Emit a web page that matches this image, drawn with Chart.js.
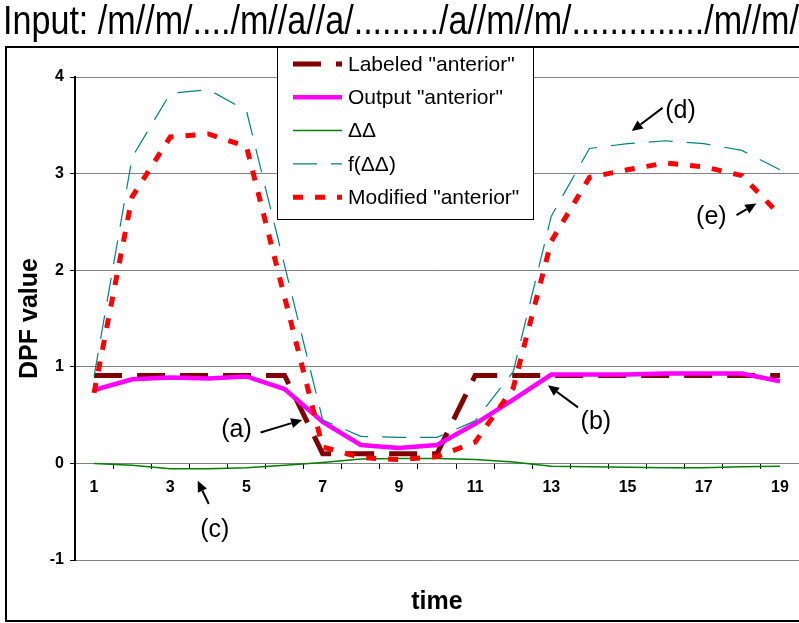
<!DOCTYPE html>
<html>
<head>
<meta charset="utf-8">
<script src="https://cdn.jsdelivr.net/npm/chart.js@4.4.0/dist/chart.umd.min.js"></script>
<style>
  html, body { margin: 0; padding: 0; background: #fff; }
</style>
</head>
<body>
<canvas id="c" width="799" height="623"></canvas>
<script>
// data
const timeLabels = ['1','2','3','4','5','6','7','8','9','10','11','12','13','14','15','16','17','18','19'];
const labeledAnterior = [0.91,0.91,0.91,0.91,0.91,0.91,0.1,0.1,0.1,0.1,0.91,0.91,0.91,0.91,0.91,0.91,0.91,0.91,0.91];
const outputAnterior = [0.76,0.87,0.89,0.88,0.90,0.77,0.43,0.19,0.16,0.19,0.41,0.66,0.92,0.92,0.92,0.93,0.93,0.93,0.85];
const deltaDelta = [0,-0.02,-0.056,-0.055,-0.045,-0.02,0.01,0.045,0.05,0.05,0.04,0.015,-0.03,-0.035,-0.04,-0.045,-0.045,-0.035,-0.03];
const fDeltaDelta = [0.9,3.17,3.83,3.87,3.65,2.05,0.45,0.28,0.27,0.27,0.44,0.95,2.56,3.26,3.31,3.34,3.31,3.24,3.04];
const modifiedAnterior = [0.73,2.76,3.38,3.41,3.28,1.72,0.17,0.06,0.04,0.07,0.22,0.78,2.3,2.96,3.04,3.11,3.07,2.98,2.57];

const titleText = 'Input: /m//m/..../m//a//a/........./a//m//m/............../m//m/';

// callouts: x is category index (0 based), y is DPF value
const callouts = [
  { text: '(a)', at: [3.74, 0.34], from: [4.37, 0.32], to: [5.46, 0.45] },
  { text: '(b)', at: [13.17, 0.43], from: [12.70, 0.58], to: [11.91, 0.81] },
  { text: '(c)', at: [3.17, -0.69], from: [3.01, -0.42], to: [2.72, -0.18] },
  { text: '(d)', at: [15.39, 3.65], from: [14.92, 3.68], to: [14.11, 3.44] },
  { text: '(e)', at: [16.20, 2.55], from: [16.86, 2.57], to: [17.38, 2.69] }
];

const FONT = "'Liberation Sans', Arial, sans-serif";
const NARROW = "'Liberation Sans Narrow', 'Liberation Sans', Arial, sans-serif";

function drawArrow(ctx, x1, y1, x2, y2) {
  const ang = Math.atan2(y2 - y1, x2 - x1);
  const head = 11, half = 5;
  const bx = x2 - head * Math.cos(ang), by = y2 - head * Math.sin(ang);
  ctx.beginPath();
  ctx.moveTo(x1, y1);
  ctx.lineTo(bx, by);
  ctx.stroke();
  ctx.beginPath();
  ctx.moveTo(x2, y2);
  ctx.lineTo(bx + half * Math.sin(ang), by - half * Math.cos(ang));
  ctx.lineTo(bx - half * Math.sin(ang), by + half * Math.cos(ang));
  ctx.closePath();
  ctx.fill();
}

const framePlugin = {
  id: 'frame',
  afterDraw(chart) {
    const ctx = chart.ctx;
    const xs = chart.scales.x, ys = chart.scales.y;
    ctx.save();

    // outer frame (right side runs off the picture)
    ctx.setLineDash([]);
    ctx.strokeStyle = '#000';
    ctx.lineWidth = 2;
    ctx.strokeRect(6, 47, 820, 574);

    // legend box
    ctx.fillStyle = '#fff';
    ctx.fillRect(277, 47, 256, 172);
    ctx.lineWidth = 1;
    ctx.strokeRect(277.5, 47.5, 256, 172);
    chart.data.datasets.forEach((ds, i) => {
      const y = 64 + i * 33.3;
      ctx.beginPath();
      ctx.setLineDash(ds.borderDash || []);
      ctx.lineWidth = ds.borderWidth;
      ctx.strokeStyle = ds.borderColor;
      ctx.moveTo(293, y);
      ctx.lineTo(342, y);
      ctx.stroke();
      ctx.setLineDash([]);
      ctx.fillStyle = '#000';
      ctx.font = '21px ' + FONT;
      ctx.textBaseline = 'middle';
      ctx.textAlign = 'left';
      ctx.fillText(ds.label, 348, y + 1, 180);
    });

    // callouts
    ctx.fillStyle = '#000';
    ctx.strokeStyle = '#000';
    ctx.lineWidth = 2;
    ctx.font = '25px ' + FONT;
    ctx.textAlign = 'center';
    ctx.textBaseline = 'middle';
    callouts.forEach(c => {
      ctx.fillText(c.text, xs.getPixelForValue(c.at[0]), ys.getPixelForValue(c.at[1]));
      drawArrow(ctx,
        xs.getPixelForValue(c.from[0]), ys.getPixelForValue(c.from[1]),
        xs.getPixelForValue(c.to[0]), ys.getPixelForValue(c.to[1]));
    });
    ctx.restore();
  }
};

const ctx = document.getElementById('c').getContext('2d');
new Chart(ctx, {
  type: 'line',
  data: {
    labels: timeLabels,
    datasets: [
      { label: 'Labeled "anterior"', data: labeledAnterior, borderColor: '#800000', borderWidth: 5, borderDash: [28, 15], order: 5 },
      { label: 'Output "anterior"', data: outputAnterior, borderColor: '#ff00ff', borderWidth: 4.5, order: 4 },
      { label: '\u0394\u0394', data: deltaDelta, borderColor: '#008000', borderWidth: 1.5, order: 3 },
      { label: 'f(\u0394\u0394)', data: fDeltaDelta, borderColor: '#008080', borderWidth: 1.2, borderDash: [24, 14], order: 2 },
      { label: 'Modified "anterior"', data: modifiedAnterior, borderColor: '#ff0000', borderWidth: 5, borderDash: [10, 12], order: 1 }
    ]
  },
  options: {
    responsive: false,
    animation: false,
    elements: {
      point: { radius: 0, hoverRadius: 0 },
      line: { tension: 0, fill: false, borderCapStyle: 'butt' }
    },
    layout: { padding: { left: 3, right: 0, top: 0, bottom: 63 } },
    plugins: {
      legend: { display: false },
      tooltip: { enabled: false },
      title: {
        display: true,
        text: titleText,
        color: '#000',
        font: { family: NARROW, size: 40, weight: 'normal', lineHeight: 1.15 },
        padding: { top: 0, bottom: 31 }
      }
    },
    scales: {
      x: {
        type: 'category',
        offset: true,
        position: { y: 0 },
        grid: { display: true, drawOnChartArea: false, drawTicks: true, tickLength: 5, offset: true, color: '#000', lineWidth: 1 },
        border: { display: true, color: '#808080', width: 1 },
        ticks: {
          autoSkip: false,
          maxRotation: 0,
          padding: 10,
          color: '#000',
          font: { family: FONT, size: 16, weight: 'bold' },
          callback: (v, i) => (i % 2 === 0 ? timeLabels[i] : '')
        },
        title: {
          display: true,
          text: 'time',
          color: '#000',
          font: { family: FONT, size: 25, weight: 'bold', lineHeight: 1.2 },
          padding: { top: 80, bottom: 0 }
        }
      },
      y: {
        min: -1,
        max: 4,
        afterFit: s => { s.width = 72; },
        grid: { color: '#808080', lineWidth: 1, drawTicks: true, tickLength: 5, tickColor: '#000' },
        border: { display: true, color: '#000', width: 2 },
        ticks: {
          stepSize: 1,
          padding: 6,
          color: '#000',
          font: { family: FONT, size: 16, weight: 'bold' }
        },
        title: {
          display: true,
          text: 'DPF value',
          color: '#000',
          font: { family: FONT, size: 25, weight: 'bold', lineHeight: 1.2 },
          padding: { top: 12, bottom: 0 }
        }
      }
    }
  },
  plugins: [framePlugin]
});
</script>
</body>
</html>
